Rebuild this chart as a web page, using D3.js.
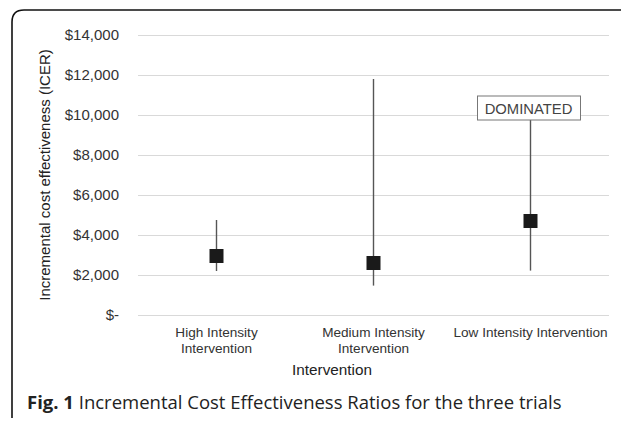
<!DOCTYPE html>
<html><head><meta charset="utf-8">
<script src="https://cdn.jsdelivr.net/npm/d3@7"></script>
<style>body{margin:0;background:#fff}svg{display:block}</style>
</head><body>
<script>
const categories = [["High Intensity","Intervention"],["Medium Intensity","Intervention"],["Low Intensity Intervention"]];
const icer = [2950, 2600, 4700];
const lower = [2200, 1470, 2220];
const upper = [4750, 11800, 9750];
const yTicks = [0,2000,4000,6000,8000,10000,12000,14000];
const annotations = ["", "", "DOMINATED"];

const W=621,H=421;
const svg=d3.select("body").append("svg").attr("width",W).attr("height",H);
// frame
svg.append("path").attr("d","M12,418 L12,22 Q12,10 24,10 L625,10").attr("fill","none").attr("stroke","#111").attr("stroke-width",1.6);

const x=d3.scaleBand().domain(d3.range(categories.length)).range([138,609]);
const y=d3.scaleLinear().domain([0,14000]).range([315,35]);
const fmt=v=>v===0?"$-":"$"+d3.format(",")(v);
const FF="Liberation Sans, Arial, sans-serif";

const yAxis=svg.append("g").attr("transform","translate(138,0)")
 .call(d3.axisLeft(y).tickValues(yTicks).tickFormat(fmt).tickSize(-471).tickPadding(19));
yAxis.select(".domain").remove();
yAxis.selectAll(".tick line").attr("stroke","#d9d9d9").attr("stroke-width",1);
yAxis.selectAll(".tick text").attr("font-family",FF).attr("font-size",15).attr("fill","#333");

const xAxis=svg.append("g").attr("transform","translate(0,315)")
 .call(d3.axisBottom(x).tickSize(0).tickFormat(""));
xAxis.select(".domain").remove();
xAxis.selectAll(".tick").each(function(d){
  const t=d3.select(this).append("text").attr("font-family",FF).attr("font-size",13.6).attr("fill","#333").attr("text-anchor","middle");
  categories[d].forEach((l,i)=>t.append("tspan").attr("x",0).attr("y",22+i*16).text(l));
});

const g=svg.append("g");
icer.forEach((v,i)=>{
  const cx=x(i)+x.bandwidth()/2;
  g.append("line").attr("x1",cx).attr("x2",cx).attr("y1",y(upper[i])).attr("y2",y(lower[i])).attr("stroke","#555").attr("stroke-width",1.4);
  g.append("rect").attr("x",cx-7).attr("y",y(v)-7).attr("width",14).attr("height",14).attr("fill","#1a1a1a");
  if(annotations[i]){
    const bh=24;
    g.append("rect").attr("x",cx-53).attr("y",y(upper[i])-bh).attr("width",103).attr("height",bh).attr("fill","#fff").attr("stroke","#777").attr("stroke-width",1);
    g.append("text").attr("x",cx-2).attr("y",y(upper[i])-6.5).attr("text-anchor","middle").attr("font-family",FF).attr("font-size",14.8).attr("fill","#444").text(annotations[i]);
  }
});

svg.append("text").attr("transform","translate(50,175) rotate(-90)").attr("text-anchor","middle")
 .attr("font-family",FF).attr("font-size",15).attr("fill","#222").text("Incremental cost effectiveness (ICER)");
svg.append("text").attr("x",332).attr("y",375).attr("text-anchor","middle")
 .attr("font-family",FF).attr("font-size",15.3).attr("fill","#222").text("Intervention");

const cap=svg.append("text").attr("x",27).attr("y",409).attr("font-family","Open Sans").attr("font-size",18.5).attr("fill","#222");
cap.append("tspan").attr("font-weight","bold").text("Fig. 1");
cap.append("tspan").text(" Incremental Cost Effectiveness Ratios for the three trials");
</script>
</body></html>
